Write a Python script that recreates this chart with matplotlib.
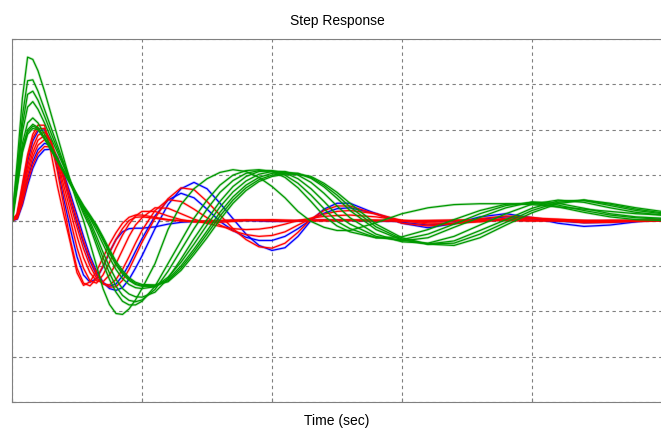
import matplotlib
matplotlib.use("Agg")
import matplotlib.pyplot as plt

# time axis (one unit = one grid cell), shared by every response
t = [0, 0.04, 0.08, 0.12, 0.16, 0.2, 0.25, 0.3, 0.35, 0.4, 0.45, 0.5, 0.55, 0.6, 0.65, 0.7, 0.75, 0.8, 0.85, 0.9, 0.95, 1.0,
     1.1, 1.2, 1.3, 1.4, 1.5, 1.6, 1.7, 1.8, 1.9, 2.0, 2.1, 2.2, 2.3, 2.4, 2.5,
     2.6, 2.8, 3.0, 3.2, 3.4, 3.6, 3.8, 4.0, 4.2, 4.4, 4.6, 4.8, 5.0]

# green responses
g1 = [0, 1.3, 2.7, 3.6, 3.55, 3.3, 2.85, 2.35, 1.85, 1.35, 0.85, 0.4, 0.0, -0.5, -1.0, -1.5, -1.85, -2.05, -2.07, -1.95, -1.75, -1.5,
      -0.95, -0.2, 0.35, 0.7, 0.92, 1.06, 1.12, 1.08, 0.95, 0.75, 0.5, 0.2, -0.02, -0.15, -0.22,
      -0.22, -0.05, 0.15, 0.28, 0.35, 0.37, 0.37, 0.35, 0.3, 0.25, 0.2, 0.15, 0.12]
g2 = [0, 1.1, 2.3, 3.08, 3.1, 2.85, 2.45, 2.05, 1.65, 1.25, 0.85, 0.5, 0.15, -0.15, -0.55, -0.95, -1.3, -1.58, -1.78, -1.86, -1.86, -1.78,
      -1.45, -0.95, -0.45, 0.05, 0.45, 0.78, 1.0, 1.1, 1.12, 1.08, 0.95, 0.72, 0.42, 0.1, -0.12,
      -0.25, -0.38, -0.36, -0.2, 0.02, 0.22, 0.36, 0.38, 0.3, 0.18, 0.08, 0.02, 0.0]
g7 = [0, 1.02, 2.1, 2.78, 2.85, 2.65, 2.3, 1.93, 1.57, 1.21, 0.85, 0.52, 0.2, -0.08, -0.45, -0.82, -1.16, -1.45, -1.65, -1.76, -1.79, -1.75,
      -1.52, -1.12, -0.65, -0.18, 0.25, 0.62, 0.88, 1.04, 1.1, 1.09, 1.0, 0.82, 0.56, 0.26, -0.02,
      -0.18, -0.38, -0.42, -0.3, -0.08, 0.15, 0.33, 0.4, 0.34, 0.22, 0.12, 0.06, 0.03]
g3 = [0, 0.95, 1.95, 2.5, 2.62, 2.45, 2.15, 1.82, 1.5, 1.18, 0.85, 0.55, 0.25, -0.02, -0.35, -0.7, -1.02, -1.3, -1.5, -1.62, -1.68, -1.69,
      -1.58, -1.28, -0.85, -0.4, 0.02, 0.42, 0.75, 0.97, 1.08, 1.1, 1.05, 0.92, 0.7, 0.42, 0.12,
      -0.08, -0.35, -0.45, -0.38, -0.15, 0.07, 0.28, 0.41, 0.38, 0.27, 0.15, 0.08, 0.05]
g4 = [0, 0.85, 1.7, 2.15, 2.26, 2.15, 1.9, 1.63, 1.36, 1.09, 0.8, 0.53, 0.27, 0.05, -0.22, -0.52, -0.82, -1.08, -1.28, -1.41, -1.48, -1.5,
      -1.46, -1.25, -0.92, -0.52, -0.1, 0.3, 0.63, 0.87, 1.02, 1.08, 1.08, 1.0, 0.84, 0.6, 0.32,
      0.06, -0.3, -0.47, -0.5, -0.35, -0.1, 0.15, 0.36, 0.45, 0.4, 0.28, 0.18, 0.12]
g5 = [0, 0.8, 1.6, 2.0, 2.12, 2.05, 1.82, 1.57, 1.32, 1.06, 0.8, 0.55, 0.3, 0.08, -0.15, -0.43, -0.72, -0.98, -1.18, -1.32, -1.41, -1.45,
      -1.45, -1.3, -1.0, -0.63, -0.23, 0.18, 0.52, 0.78, 0.95, 1.04, 1.06, 1.04, 0.93, 0.74, 0.49,
      0.22, -0.2, -0.43, -0.52, -0.45, -0.22, 0.02, 0.27, 0.43, 0.44, 0.33, 0.22, 0.15]
g8 = [0, 0.78, 1.55, 1.95, 2.08, 2.03, 1.81, 1.57, 1.32, 1.07, 0.81, 0.56, 0.31, 0.1, -0.12, -0.4, -0.68, -0.94, -1.14, -1.29, -1.39, -1.43,
      -1.44, -1.33, -1.05, -0.69, -0.3, 0.1, 0.45, 0.72, 0.9, 1.0, 1.04, 1.03, 0.95, 0.78, 0.56,
      0.3, -0.14, -0.41, -0.52, -0.5, -0.3, -0.04, 0.22, 0.4, 0.45, 0.36, 0.25, 0.17]
g6 = [0, 0.75, 1.5, 1.9, 2.03, 2.0, 1.8, 1.56, 1.32, 1.07, 0.82, 0.57, 0.33, 0.12, -0.1, -0.36, -0.64, -0.9, -1.1, -1.26, -1.36, -1.41,
      -1.42, -1.35, -1.1, -0.75, -0.38, 0.02, 0.38, 0.66, 0.86, 0.97, 1.02, 1.02, 0.97, 0.82, 0.62,
      0.38, -0.08, -0.38, -0.52, -0.55, -0.38, -0.1, 0.17, 0.37, 0.45, 0.38, 0.28, 0.2]

# red responses
r1 = [0, 0.15, 0.8, 1.45, 1.9, 2.1, 2.1, 1.5, 0.75, 0.1, -0.5, -1.15, -1.43, -1.35, -1.12, -0.82, -0.52, -0.27, -0.06, 0.07, 0.12, 0.12,
      0.07, 0.02, 0.0, -0.02, -0.02, -0.01, 0.0, 0.01, 0.01, 0.0, -0.01, -0.01, 0.0, 0.01, 0.01,
      0.01, 0.0, -0.01, -0.01, 0.0, 0.01, 0.01, 0.0, -0.01, -0.01, 0.0, 0.0, 0.0]
r6 = [0, 0.13, 0.75, 1.38, 1.82, 2.02, 2.03, 1.72, 1.08, 0.3, -0.45, -1.05, -1.38, -1.44, -1.28, -1.0, -0.7, -0.42, -0.18, 0.0, 0.07, 0.08,
      0.05, 0.01, -0.01, -0.02, -0.01, 0.0, 0.01, 0.01, 0.0, -0.01, -0.01, 0.0, 0.01, 0.01, 0.0,
      0.0, -0.01, -0.01, 0.0, 0.01, 0.01, 0.0, -0.01, 0.0, 0.0, 0.0, 0.0, 0.0]
r2 = [0, 0.1, 0.62, 1.2, 1.62, 1.88, 1.95, 1.75, 1.25, 0.6, 0.0, -0.6, -1.05, -1.33, -1.38, -1.2, -0.92, -0.6, -0.32, -0.08, 0.1, 0.2,
      0.2, 0.1, 0.02, -0.03, -0.05, -0.04, -0.02, 0.0, 0.01, 0.02, 0.01, 0.0, -0.01, -0.01, 0.0,
      0.01, 0.01, 0.0, -0.01, -0.01, 0.0, 0.01, 0.0, 0.0, -0.01, 0.0, 0.0, 0.0]
r3 = [0, 0.08, 0.55, 1.1, 1.5, 1.77, 1.87, 1.75, 1.3, 0.75, 0.2, -0.35, -0.82, -1.15, -1.33, -1.35, -1.2, -0.95, -0.65, -0.35, -0.1, 0.06,
      0.28, 0.27, 0.15, 0.03, -0.06, -0.13, -0.18, -0.2, -0.19, -0.15, -0.08, 0.0, 0.05, 0.09, 0.11,
      0.12, 0.08, 0.0, -0.05, -0.06, -0.03, 0.02, 0.04, 0.03, 0.0, -0.02, -0.02, 0.0]
r4 = [0, 0.06, 0.48, 1.0, 1.4, 1.66, 1.78, 1.7, 1.35, 0.88, 0.35, -0.15, -0.62, -1.0, -1.27, -1.4, -1.42, -1.3, -1.08, -0.8, -0.5, -0.22,
      0.22, 0.46, 0.42, 0.25, 0.06, -0.1, -0.23, -0.31, -0.35, -0.33, -0.25, -0.1, 0.04, 0.14, 0.2,
      0.22, 0.15, 0.0, -0.08, -0.07, -0.01, 0.05, 0.05, 0.02, -0.02, -0.03, -0.01, 0.0]
r5 = [0, 0.04, 0.38, 0.85, 1.22, 1.48, 1.63, 1.62, 1.38, 0.98, 0.5, 0.03, -0.45, -0.85, -1.17, -1.38, -1.47, -1.46, -1.32, -1.08, -0.78, -0.48,
      0.05, 0.48, 0.72, 0.68, 0.42, 0.12, -0.18, -0.42, -0.58, -0.61, -0.5, -0.26, 0.03, 0.22, 0.32,
      0.32, 0.14, -0.06, -0.12, -0.07, 0.04, 0.1, 0.07, 0.0, -0.05, -0.04, -0.01, 0.01]

# blue responses
b1 = [0, 0.12, 0.7, 1.3, 1.75, 1.97, 2.0, 1.75, 1.15, 0.45, -0.2, -0.8, -1.2, -1.36, -1.28, -1.02, -0.7, -0.42, -0.25, -0.18, -0.17, -0.17,
      -0.14, -0.08, -0.04, -0.02, -0.02, -0.01, 0.0, 0.0, -0.01, -0.02, -0.02, -0.01, 0.0, 0.01, 0.01,
      0.0, -0.01, -0.02, -0.02, -0.01, 0.0, 0.01, 0.01, 0.0, -0.01, -0.01, 0.0, 0.0]
b2 = [0, 0.03, 0.34, 0.78, 1.15, 1.4, 1.56, 1.57, 1.38, 1.02, 0.58, 0.12, -0.35, -0.78, -1.12, -1.36, -1.5, -1.54, -1.48, -1.3, -1.05, -0.78,
      -0.18, 0.35, 0.7, 0.84, 0.7, 0.38, 0.04, -0.3, -0.55, -0.66, -0.6, -0.35, 0.0, 0.25, 0.38,
      0.38, 0.15, -0.06, -0.16, -0.07, 0.08, 0.15, 0.06, -0.06, -0.13, -0.1, -0.03, 0.03]
b3 = [0, 0.05, 0.42, 0.92, 1.3, 1.56, 1.7, 1.66, 1.38, 0.95, 0.45, -0.05, -0.5, -0.9, -1.2, -1.38, -1.45, -1.4, -1.22, -0.97, -0.68, -0.4,
      0.1, 0.45, 0.6, 0.5, 0.25, -0.02, -0.22, -0.37, -0.44, -0.44, -0.35, -0.18, 0.02, 0.16, 0.26,
      0.28, 0.15, -0.04, -0.1, -0.06, 0.03, 0.08, 0.05, -0.01, -0.05, -0.04, -0.01, 0.01]

blues = [b1, b2, b3]
reds = [r1, r6, r2, r3, r4, r5]
greens = [g1, g2, g7, g3, g4, g5, g8, g6]

plt.rcParams['font.family'] = ['Liberation Sans', 'DejaVu Sans']

fig = plt.figure(figsize=(6.61, 4.30), dpi=100)
ax = fig.add_axes([12 / 661, 28 / 430, 650 / 661, 363 / 430])

for y in blues:
    ax.plot(t, y, color='#0000ff', lw=2.0, alpha=0.22, solid_joinstyle='round')
    ax.plot(t, y, color='#0000ff', lw=0.9)
for y in reds:
    ax.plot(t, y, color='#ff0000', lw=2.0, alpha=0.22, solid_joinstyle='round')
    ax.plot(t, y, color='#ff0000', lw=0.9)
for y in greens:
    ax.plot(t, y, color='#009900', lw=2.0, alpha=0.22, solid_joinstyle='round')
    ax.plot(t, y, color='#009900', lw=0.9)

ax.set_xlim(0, 5)
ax.set_ylim(-4, 4)
ax.set_xticks([0, 1, 2, 3, 4, 5])
ax.set_yticks([-4, -3, -2, -1, 0, 1, 2, 3, 4])
ax.set_xticklabels([])
ax.set_yticklabels([])
ax.tick_params(direction='in', length=3, color='#808080')
ax.grid(True, color='#808080', linestyle=(0, (3, 3)), linewidth=0.8)
ax.axhline(0, color='#303030', linestyle=(0, (3, 3)), linewidth=0.8, zorder=0.5)
ax.set_axisbelow(True)
for s in ax.spines.values():
    s.set_color('#808080')

ax.set_title('Step Response', fontsize=10, pad=10)
ax.set_xlabel('Time (sec)', fontsize=10, labelpad=5)

fig.savefig('out.png', dpi=100)
